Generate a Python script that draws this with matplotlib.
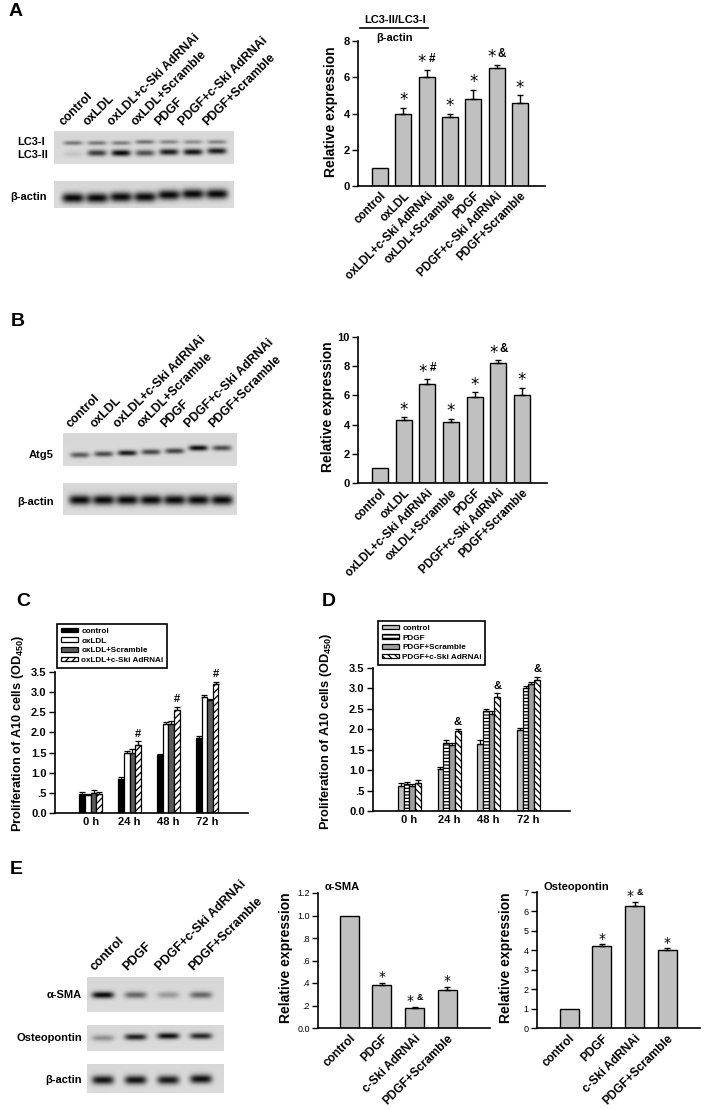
import numpy as np
import matplotlib
matplotlib.use("Agg")
import matplotlib.pyplot as plt

W, H = 704, 1110

# ---------------- data ----------------
groups_ab = ["control", "oxLDL", "oxLDL+c-Ski AdRNAi", "oxLDL+Scramble",
             "PDGF", "PDGF+c-Ski AdRNAi", "PDGF+Scramble"]
lc3_expr = [1.0, 4.0, 6.0, 3.8, 4.8, 6.5, 4.6]
lc3_err = [0.0, 0.3, 0.4, 0.2, 0.5, 0.2, 0.4]
atg5_expr = [1.0, 4.3, 6.8, 4.2, 5.9, 8.2, 6.0]
atg5_err = [0.0, 0.2, 0.3, 0.2, 0.3, 0.2, 0.5]
ab_marks = ["", "*", "*#", "*", "*", "*&", "*"]

time_points = ["0 h", "24 h", "48 h", "72 h"]
c_series = ["control", "oxLDL", "oxLDL+Scramble", "oxLDL+c-Ski AdRNAi"]
c_vals = [[0.47, 0.85, 1.43, 1.85],
          [0.44, 1.48, 2.20, 2.88],
          [0.50, 1.50, 2.22, 2.80],
          [0.47, 1.70, 2.56, 3.20]]
c_errs = [[0.06, 0.05, 0.04, 0.06],
          [0.03, 0.05, 0.06, 0.04],
          [0.06, 0.08, 0.06, 0.04],
          [0.06, 0.08, 0.07, 0.06]]
c_marks = ["", "#", "#", "#"]

d_series = ["control", "PDGF", "PDGF+Scramble", "PDGF+c-Ski AdRNAi"]
d_vals = [[0.62, 1.02, 1.65, 1.98],
          [0.65, 1.67, 2.45, 3.00],
          [0.60, 1.62, 2.38, 3.10],
          [0.68, 1.95, 2.78, 3.20]]
d_errs = [[0.07, 0.06, 0.10, 0.06],
          [0.07, 0.08, 0.05, 0.06],
          [0.05, 0.05, 0.06, 0.05],
          [0.07, 0.05, 0.10, 0.08]]
d_marks = ["", "&", "&", "&"]

e_lanes = ["control", "PDGF", "PDGF+c-Ski AdRNAi", "PDGF+Scramble"]
e_groups = ["control", "PDGF", "c-Ski AdRNAi", "PDGF+Scramble"]
sma_expr = [1.0, 0.38, 0.18, 0.34]
sma_err = [0.0, 0.02, 0.01, 0.025]
opn_expr = [1.0, 4.2, 6.3, 4.0]
opn_err = [0.0, 0.1, 0.2, 0.1]
e_marks = ["", "*", "*&", "*"]

# western blot band strengths per lane (0 none .. 1 saturated)
lc3i_band = [0.45, 0.45, 0.42, 0.48, 0.38, 0.35, 0.40]
lc3ii_band = [0.10, 0.75, 1.00, 0.65, 0.90, 0.95, 0.90]
actin_a_band = [1.0, 1.0, 1.0, 1.0, 1.0, 1.0, 1.0]
atg5_band = [0.60, 0.68, 0.92, 0.70, 0.72, 0.97, 0.66]
actin_b_band = [1.0, 1.0, 1.0, 1.0, 1.0, 1.0, 1.0]
sma_band = [1.0, 0.55, 0.30, 0.55]
opn_band = [0.35, 0.88, 0.97, 0.85]
actin_e_band = [0.95, 0.95, 0.92, 0.97]

# ---------------- style ----------------
plt.rcParams["font.family"] = ["Liberation Sans", "DejaVu Sans"]
plt.rcParams["font.weight"] = "bold"
plt.rcParams["mathtext.fontset"] = "custom"
plt.rcParams["mathtext.rm"] = "Liberation Sans:bold"
plt.rcParams["mathtext.bf"] = "Liberation Sans:bold"
plt.rcParams["hatch.linewidth"] = 0.9

fig = plt.figure(figsize=(W / 100, H / 100), dpi=100)


def px_axes(x0, y0, x1, y1):
    return fig.add_axes([x0 / W, 1 - y1 / H, (x1 - x0) / W, (y1 - y0) / H])


def ftext(x, y, s, **kw):
    return fig.text(x / W, 1 - y / H, s, **kw)


def clean_axes(ax, tick_fs, tick_weight="bold"):
    for s in ["top", "right"]:
        ax.spines[s].set_visible(False)
    for s in ["left", "bottom"]:
        ax.spines[s].set_linewidth(1.2)
    ax.tick_params(axis="x", length=0, pad=3)
    ax.tick_params(axis="y", length=4, width=1, direction="out",
                   labelsize=tick_fs, pad=2)
    for t in ax.get_yticklabels():
        t.set_fontweight(tick_weight)


def ylabel(ax, text, xc, yc, fs=10):
    ax.set_ylabel(text, fontsize=fs, fontweight="bold")
    ax.yaxis.set_label_coords((xc + 6) / W, 1 - yc / H, transform=fig.transFigure)


def put_mark(ax, x, y, mark, star_fs, sym_fs):
    # star, optionally followed by a smaller significance symbol
    if len(mark) == 1:
        ax.annotate("*", (x, y), xytext=(0, -1), textcoords="offset points",
                    ha="center", va="bottom", fontsize=star_fs,
                    family="DejaVu Sans", fontweight="normal")
    else:
        ax.annotate("*", (x, y), xytext=(-3.5, -1), textcoords="offset points",
                    ha="center", va="bottom", fontsize=star_fs,
                    family="DejaVu Sans", fontweight="normal")
        ax.annotate(mark[1], (x, y), xytext=(4, 3.5), textcoords="offset points",
                    ha="center", va="bottom", fontsize=sym_fs)


def bar_chart(rect, vals, errs, marks, names, ylim, yticks, yticklabels,
              xlim, width, tick_fs=8, name_fs=8.4, star_fs=12, sym_fs=8.5,
              tick_weight="bold"):
    ax = px_axes(*rect)
    x = np.arange(len(vals))
    vals = np.asarray(vals)
    errs = np.asarray(errs)
    ax.bar(x, vals, width, color="#c0c0c0", edgecolor="black", linewidth=1.0, zorder=2)
    m = errs > 0
    ax.errorbar(x[m], vals[m], yerr=[np.zeros(m.sum()), errs[m]], fmt="none",
                ecolor="black", elinewidth=1.0, capsize=2.5, capthick=1.0, zorder=3)
    for xi, v, e, mk in zip(x, vals, errs, marks):
        if mk:
            put_mark(ax, xi, v + e, mk, star_fs, sym_fs)
    ax.set_xlim(*xlim)
    ax.set_ylim(*ylim)
    ax.set_yticks(yticks)
    ax.set_yticklabels(yticklabels)
    ax.set_xticks(x)
    ax.set_xticklabels(names, rotation=45, ha="right", rotation_mode="anchor",
                       fontsize=name_fs)
    clean_axes(ax, tick_fs, tick_weight)
    return ax


def grouped_chart(rect, vals, errs, marks, series, styles, legend_xy):
    ax = px_axes(*rect)
    x = np.arange(len(time_points))
    w = 0.145
    offs = (np.arange(len(series)) - 1.5) * w
    for k, (v, e, name, st) in enumerate(zip(vals, errs, series, styles)):
        ax.bar(x + offs[k], v, w, edgecolor="black", linewidth=0.9, label=name,
               zorder=2, **st)
        ax.errorbar(x + offs[k], v, yerr=[np.zeros(len(e)), e], fmt="none",
                    ecolor="black", elinewidth=0.9, capsize=2, capthick=0.9, zorder=3)
    last_v = np.asarray(vals[-1]) + np.asarray(errs[-1])
    for xi, top, mk in zip(x, last_v, marks):
        if mk:
            ax.annotate(mk, (xi + offs[-1], top), xytext=(0, 2),
                        textcoords="offset points", ha="center", va="bottom",
                        fontsize=8)
    ax.set_xlim(-0.92, 4.05)
    ax.set_ylim(0, 3.5)
    ax.set_yticks([0, 0.5, 1.0, 1.5, 2.0, 2.5, 3.0, 3.5])
    ax.set_yticklabels(["0.0", ".5", "1.0", "1.5", "2.0", "2.5", "3.0", "3.5"])
    ax.set_xticks(x)
    ax.set_xticklabels(time_points, fontsize=8)
    clean_axes(ax, 8)
    leg = ax.legend(loc="upper left", bbox_to_anchor=(legend_xy[0] / W, 1 - legend_xy[1] / H),
                    bbox_transform=fig.transFigure, frameon=True, fancybox=False,
                    edgecolor="black", framealpha=1, fontsize=5.9, handlelength=2.1,
                    handleheight=0.5, labelspacing=0.3, borderpad=0.45,
                    handletextpad=0.4, borderaxespad=0)
    leg.get_frame().set_linewidth(1.2)
    return ax


def draw_blot(x0, y0, x1, y1, lanes, rows, hw=9.5, bg=0.84):
    ax = px_axes(x0, y0, x1, y1)
    ax.axis("off")
    xs = np.arange(x0, x1) + 0.5
    ys = np.arange(y0, y1) + 0.5
    X, Y = np.meshgrid(xs, ys)
    dark = np.zeros_like(X)
    for yc, strengths, shifts, sy in rows:
        for lx, a, d in zip(lanes, strengths, shifts):
            dark += a * np.exp(-((X - lx) / hw) ** 4) * np.exp(-((Y - (yc + d)) / sy) ** 2)
    img = bg * (1 - 0.97 * np.clip(dark, 0, 1)) + 0.02 * (Y - y0) / (y1 - y0)
    ax.imshow(img, cmap="gray", vmin=0, vmax=1, extent=(x0, x1, y1, y0),
              aspect="auto", interpolation="bilinear")
    ax.set_xlim(x0, x1)
    ax.set_ylim(y1, y0)
    return ax


def lane_labels(lanes, names, y, dx=-7, fs=8.8):
    for lx, nm in zip(lanes, names):
        ftext(lx + dx, y, nm, rotation=45, rotation_mode="anchor", ha="left",
              va="bottom", fontsize=fs)


# ---------------- panel A ----------------
ftext(16, 12, "A", fontsize=14, ha="center", va="center")
lanes_a = np.linspace(73, 216, 7)
draw_blot(54, 131, 233, 164, lanes_a, [
    (143, lc3i_band, [0, 0, 0, -1, -1, -1, -1], 2.2),
    (153, lc3ii_band, [1, 0, 0, 0, -1, -1, -2], 3.2),
])
draw_blot(54, 181, 233, 208, lanes_a,
          [(197, actin_a_band, [1, 1, 0, 0, -2, -3, -3], 5.0)], hw=11)
lane_labels(lanes_a, groups_ab, 128)
ftext(17, 142, "LC3-I", fontsize=8, ha="left", va="center")
ftext(17, 155, "LC3-II", fontsize=8, ha="left", va="center")
ftext(47, 197, "β-actin", fontsize=8, ha="right", va="center")

ax_a = bar_chart((358, 41, 545, 186), lc3_expr, lc3_err, ab_marks, groups_ab,
                 (0, 8), [0, 2, 4, 6, 8], ["0", "2", "4", "6", "8"],
                 (-0.94, 7.07), 0.68)
ylabel(ax_a, "Relative expression", 332, 112)
ftext(395, 20, "LC3-II/LC3-I", fontsize=8, ha="center", va="center")
ax_a.plot([360 / W, 428 / W], [1 - 28 / H, 1 - 28 / H], color="black", lw=1.2,
          transform=fig.transFigure, clip_on=False)
ftext(395, 38, "β-actin", fontsize=8, ha="center", va="center")

# ---------------- panel B ----------------
ftext(18, 322, "B", fontsize=14, ha="center", va="center")
lanes_b = np.linspace(80, 222, 7)
draw_blot(63, 433, 237, 466, lanes_b,
          [(455, atg5_band, [0, -1, -2, -3, -4, -7, -7], 2.8)])
draw_blot(63, 483, 237, 515, lanes_b,
          [(500, actin_b_band, [0, 0, 0, 0, 0, 0, 0], 5.0)], hw=11)
lane_labels(lanes_b, groups_ab, 430)
ftext(54, 455, "Atg5", fontsize=8, ha="right", va="center")
ftext(54, 502, "β-actin", fontsize=8, ha="right", va="center")

ax_b = bar_chart((358, 337, 547, 483), atg5_expr, atg5_err, ab_marks, groups_ab,
                 (0, 10), [0, 2, 4, 6, 8, 10], ["0", "2", "4", "6", "8", "10"],
                 (-0.94, 7.07), 0.68)
ylabel(ax_b, "Relative expression", 329, 407)

# ---------------- panels C, D ----------------
ftext(23, 602, "C", fontsize=14, ha="center", va="center")
c_styles = [dict(facecolor="black"), dict(facecolor="white"),
            dict(facecolor="#5a5a5a"), dict(facecolor="white", hatch="/////")]
ax_c = grouped_chart((55, 672, 248, 813), c_vals, c_errs, c_marks, c_series,
                     c_styles, (57, 624))
ylabel(ax_c, "Proliferation of A10 cells (OD$_{450}$)", 20, 733, fs=9.2)

ftext(329, 602, "D", fontsize=14, ha="center", va="center")
d_styles = [dict(facecolor="#c0c0c0"), dict(facecolor="white", hatch="-----"),
            dict(facecolor="#a0a0a0"), dict(facecolor="white", hatch="\\\\\\\\\\")]
ax_d = grouped_chart((373, 668, 570, 811), d_vals, d_errs, d_marks, d_series,
                     d_styles, (378, 621))
ylabel(ax_d, "Proliferation of A10 cells (OD$_{450}$)", 328, 731, fs=9.2)

# ---------------- panel E ----------------
ftext(16, 870, "E", fontsize=14, ha="center", va="center")
lanes_e = np.linspace(103, 201, 4)
draw_blot(87, 977, 224, 1012, lanes_e, [(995, sma_band, [0, 0, 0, 0], 3.4)], hw=11)
draw_blot(87, 1025, 224, 1051, lanes_e, [(1037, opn_band, [1, 0, -1, -1], 3.2)], hw=11)
draw_blot(87, 1064, 224, 1093, lanes_e, [(1080, actin_e_band, [0, 0, 0, -1], 4.5)], hw=11)
lane_labels(lanes_e, e_lanes, 973, dx=-6, fs=9)
ftext(82, 995, "α-SMA", fontsize=8, ha="right", va="center")
ftext(82, 1038, "Osteopontin", fontsize=8, ha="right", va="center")
ftext(82, 1080, "β-actin", fontsize=8, ha="right", va="center")

ax_sma = bar_chart((318, 893, 490, 1028), sma_expr, sma_err, e_marks, e_groups,
                   (0, 1.2), [0, 0.2, 0.4, 0.6, 0.8, 1.0, 1.2],
                   ["0.0", ".2", ".4", ".6", ".8", "1.0", "1.2"],
                   (-0.95, 4.3), 0.58, tick_fs=6.5, name_fs=8.6, star_fs=10,
                   sym_fs=6.5, tick_weight="normal")
ylabel(ax_sma, "Relative expression", 287, 958)
ftext(325, 887, "α-SMA", fontsize=8, ha="left", va="center")

ax_opn = bar_chart((537, 892, 700, 1028), opn_expr, opn_err, e_marks, e_groups,
                   (0, 7), [0, 1, 2, 3, 4, 5, 6, 7],
                   ["0", "1", "2", "3", "4", "5", "6", "7"],
                   (-0.98, 4.0), 0.58, tick_fs=6.5, name_fs=8.6, star_fs=10,
                   sym_fs=6.5, tick_weight="normal")
ylabel(ax_opn, "Relative expression", 507, 958)
ftext(543, 887, "Osteopontin", fontsize=8, ha="left", va="center")

fig.savefig("out.png", dpi=100)
